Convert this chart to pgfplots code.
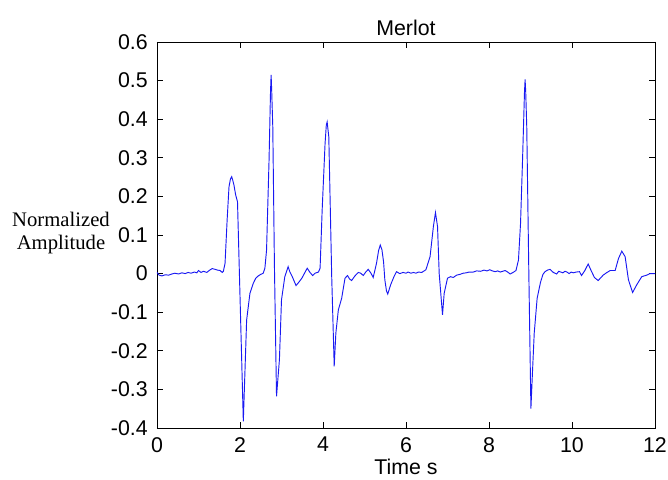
\documentclass[border=0pt]{standalone}
\usepackage{pgfplots}
\pgfplotsset{compat=1.18}
\usepackage{fontspec}
\setmainfont{Liberation Sans}
\newfontfamily\timesfont{Liberation Serif}
\begin{document}
\begin{tikzpicture}
\begin{axis}[
  scale only axis, width=373.5pt, height=289.5pt,
  xmin=0, xmax=12, ymin=-0.4, ymax=0.6,
  xtick={0,2,4,6,8,10,12}, xticklabels={0,2,4,6,8,10,12},
  ytick={-0.4,-0.3,-0.2,-0.1,0,0.1,0.2,0.3,0.4,0.5,0.6},
  yticklabels={-0.4,-0.3,-0.2,-0.1,0,0.1,0.2,0.3,0.4,0.5,0.6},
  tick align=inside, major tick length=4.5pt,
  tick style={black, line width=0.6pt},
  axis line style={line width=0.6pt},
  ticklabel style={font=\fontsize{16}{19}\selectfont},
  xticklabel style={inner sep=0pt, anchor=north, yshift=-6.75pt},
  yticklabel style={inner sep=0pt, anchor=east, xshift=-6.75pt},
  title={Merlot},
  every axis title/.style={at={(0.5,1)}, anchor=base, yshift=4.5pt, inner sep=0pt, font=\fontsize{16}{19}\selectfont},
  xlabel={Time s},
  every axis x label/.style={at={(0.5,0)}, anchor=base, yshift=-35pt, inner sep=0pt, font=\fontsize{16}{19}\selectfont},
  ylabel={Normalized\\Amplitude},
  every axis y label/.style={at={(0,0.505)}, anchor=center, xshift=-72pt, align=center, inner sep=0pt, font=\timesfont\fontsize{15.5}{17.5}\selectfont},
]
\addplot[color={rgb,1:red,0.1;green,0.1;blue,0.95}, line width=0.7pt, mark=none] coordinates {
(0.00,0.003) (0.05,-0.004) (0.12,-0.006) (0.2,-0.003) (0.28,-0.004) (0.36,-0.001)
(0.43,0.001) (0.52,-0.001) (0.6,0.002) (0.68,0.0) (0.75,0.003) (0.82,0.001)
(0.9,0.004) (0.96,0.002) (1.0,0.008) (1.06,0.003) (1.12,0.006) (1.2,0.003)
(1.27,0.009) (1.33,0.013) (1.40,0.011) (1.46,0.009) (1.52,0.008) (1.57,0.003)
(1.60,0.006) (1.64,0.027) (1.69,0.139) (1.735,0.225) (1.77,0.245) (1.80,0.251)
(1.83,0.240) (1.855,0.229) (1.895,0.204) (1.94,0.186) (2.08,-0.383) (2.16,-0.12)
(2.24,-0.051) (2.32,-0.025) (2.38,-0.012) (2.44,-0.006) (2.50,-0.002) (2.56,0.001)
(2.60,0.014) (2.64,0.061) (2.70,0.294) (2.735,0.47) (2.75,0.515) (2.765,0.47)
(2.79,0.38) (2.83,0.018) (2.88,-0.318) (2.95,-0.223) (3.00,-0.068) (3.08,-0.008)
(3.16,0.018) (3.20,0.005) (3.26,-0.008) (3.35,-0.031) (3.42,-0.022) (3.49,-0.012)
(3.56,0.002) (3.62,0.014) (3.68,0.004) (3.75,-0.005) (3.81,0.001) (3.89,0.004)
(3.93,0.014) (3.98,0.165) (4.05,0.337) (4.08,0.385) (4.10,0.393) (4.14,0.354)
(4.21,-0.008) (4.27,-0.24) (4.31,-0.154) (4.37,-0.094) (4.45,-0.064) (4.53,-0.012)
(4.59,-0.005) (4.64,-0.014) (4.69,-0.018) (4.77,-0.006) (4.85,0.003) (4.91,0.001)
(4.97,-0.005) (5.03,0.004) (5.09,0.011) (5.15,0.002) (5.21,-0.01) (5.29,0.027)
(5.34,0.060) (5.38,0.074) (5.42,0.062) (5.46,0.030) (5.49,-0.016) (5.53,-0.045)
(5.56,-0.053) (5.63,-0.029) (5.71,-0.008) (5.77,0.005) (5.85,0.0) (5.93,0.003)
(6.00,0.001) (6.05,0.004) (6.12,0.001) (6.18,0.003) (6.24,0.001) (6.30,0.004)
(6.38,0.003) (6.48,0.01) (6.58,0.044) (6.66,0.122) (6.71,0.158) (6.76,0.122)
(6.80,0.0) (6.88,-0.107) (6.92,-0.051) (7.00,-0.012) (7.07,-0.008) (7.14,-0.01)
(7.22,-0.004) (7.30,-0.002) (7.38,0.001) (7.45,0.002) (7.52,0.004) (7.62,0.004)
(7.70,0.007) (7.80,0.006) (7.88,0.009) (7.95,0.007) (8.02,0.01) (8.08,0.007)
(8.15,0.005) (8.21,0.007) (8.27,0.004) (8.33,0.006) (8.39,0.008) (8.45,0.004)
(8.51,-0.001) (8.58,0.003) (8.65,0.008) (8.71,0.035) (8.76,0.13) (8.81,0.30)
(8.855,0.47) (8.87,0.503) (8.885,0.47) (8.91,0.38) (8.96,0.0) (9.01,-0.350)
(9.05,-0.25) (9.09,-0.154) (9.16,-0.064) (9.24,-0.023) (9.30,-0.002) (9.35,0.005)
(9.41,0.009) (9.47,0.011) (9.55,0.003) (9.63,-0.001) (9.68,0.006) (9.73,0.004)
(9.78,0.002) (9.83,0.006) (9.88,0.004) (9.93,0.0) (9.98,0.004) (10.03,0.002)
(10.10,0.004) (10.18,0.005) (10.23,-0.005) (10.31,0.008) (10.39,0.025) (10.46,0.008)
(10.54,-0.01) (10.63,-0.018) (10.70,-0.01) (10.75,-0.004) (10.83,0.002) (10.92,0.008)
(11.04,0.008) (11.12,0.039) (11.20,0.058) (11.28,0.044) (11.36,-0.016) (11.46,-0.049)
(11.56,-0.029) (11.68,-0.008) (11.80,-0.004) (11.88,0.0) (12.0,0.0)
};
\coordinate (bl) at (rel axis cs:0,0);
\coordinate (tr) at (rel axis cs:1,1);
\end{axis}
\pgfresetboundingbox
\path[use as bounding box] ([xshift=-117.75pt,yshift=-38.25pt]bl) rectangle ([xshift=9.75pt,yshift=31.5pt]tr);
\end{tikzpicture}
\end{document}
